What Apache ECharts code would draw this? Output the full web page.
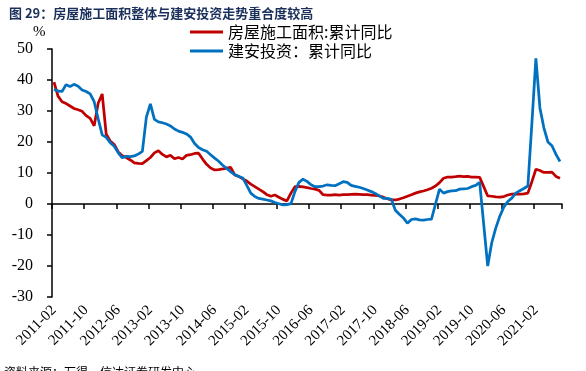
<!DOCTYPE html>
<html>
<head>
<meta charset="utf-8">
<script src="https://cdn.jsdelivr.net/npm/echarts@6/dist/echarts.min.js"></script>
<style>html,body{margin:0;padding:0;background:#fff;}#c{width:586px;height:371px;}</style>
</head>
<body>
<div id="c"></div>
<script>
// Months 2011-02 .. 2021-08
const startYear = 2011, startMonth = 2, monthCount = 127;
const categories = [];
for (let i = 0; i < monthCount; i++) {
  const m = startMonth - 1 + i;
  const y = startYear + Math.floor(m / 12);
  const mm = (m % 12) + 1;
  categories.push(y + '-' + (mm < 10 ? '0' + mm : mm));
}
const seriesNames = ['房屋施工面积:累计同比', '建安投资：累计同比'];
const floorSpaceYoY = [
  39.3, 34.8, 33.0, 32.4, 31.6, 30.8, 30.4, 29.9, 28.5, 27.6,
  25.2, 32.5, 35.5, 22.5, 20.3, 19.2, 16.8, 15.6, 15.0, 14.2,
  13.3, 13.1, 13.0, 14.0, 15.0, 16.5, 17.2, 16.0, 15.2, 15.7,
  14.6, 15.0, 14.5, 15.7, 15.9, 16.3, 16.4, 14.5, 12.8, 11.6,
  11.0, 11.1, 11.3, 11.6, 11.8, 9.4, 8.9, 8.1, 7.4, 6.4,
  5.6, 4.8, 4.0, 3.0, 2.5, 2.9, 2.2, 1.5, 1.0, 3.5,
  5.6, 5.7, 5.5, 5.3, 5.0, 4.8, 4.4, 3.0, 2.9, 2.9,
  3.0, 2.9, 3.0, 3.0, 3.1, 3.2, 3.1, 3.0, 3.0, 2.9,
  2.8, 2.6, 2.2, 1.7, 1.3, 1.3, 1.6, 2.0, 2.5, 3.0,
  3.5, 3.9, 4.2, 4.6, 5.1, 5.8, 6.9, 8.3, 8.7, 8.7,
  8.8, 9.0, 8.8, 8.9, 8.7, 8.7, 8.6, 5.6, 2.6, 2.5,
  2.3, 2.2, 2.4, 2.9, 3.2, 3.3, 3.2, 3.3, 3.5, 7.2,
  11.2, 10.8, 10.2, 10.2, 10.3, 8.9, 8.3
];
const constructionInvestYoY = [
  37.0, 36.4, 36.3, 38.5, 37.9, 38.6, 38.0, 36.8, 36.3, 35.5,
  33.0, 27.5, 22.3, 21.5, 19.8, 18.6, 16.5, 14.9, 15.4, 15.3,
  15.5, 16.1, 17.0, 28.0, 32.3, 27.3, 26.5, 26.2, 25.8, 25.2,
  24.2, 23.5, 23.1, 22.6, 21.6, 19.5, 18.2, 17.5, 17.0, 15.9,
  14.8, 13.8, 12.5, 11.5, 10.4, 9.5, 8.9, 8.4, 6.0, 3.5,
  2.4, 1.8, 1.6, 1.3, 1.0, 0.5, 0.1, -0.3, -0.2, 0.1,
  4.0, 7.0, 8.0, 7.3, 6.2, 5.6, 5.6, 5.8, 6.2, 6.0,
  5.9, 6.5, 7.2, 7.0, 6.0, 5.7, 5.4, 5.0, 4.5, 4.0,
  3.4, 2.6, 1.8, 1.8, 1.5, -2.0, -3.3, -4.5, -6.2, -5.0,
  -4.8, -5.1, -5.2, -5.0, -4.9, 0.0, 4.8, 3.5, 4.0, 4.2,
  4.3, 4.8, 4.9, 5.0, 5.6, 6.0, 7.0, -6.5, -20.0, -12.5,
  -7.8, -4.0, -1.0, 0.8, 1.9, 3.5, 4.3, 5.0, 5.8, 26.0,
  47.0, 31.0, 24.5, 20.0, 18.8, 16.0, 13.7
];
const yMin = -30, yMax = 50, yStep = 10;

const serif = '"Liberation Serif", "Times New Roman", serif';
const cjk = '"Noto Sans CJK SC", sans-serif';
const chart = echarts.init(document.getElementById('c'), null, {renderer: 'canvas'});
chart.setOption({
  animation: false,
  backgroundColor: '#fff',
  title: {
    text: '图 29：房屋施工面积整体与建安投资走势重合度较高',
    left: 4, top: 2,
    textStyle: {fontFamily: cjk, fontSize: 13, fontWeight: 'bold', color: '#1A2F5A'}
  },
  graphic: [
    {type: 'text', left: 33, top: 25, style: {text: '%', font: '15px ' + serif, fill: '#000'}},
    {type: 'text', left: 4, top: 366, style: {text: '资料来源：万得，信达证券研发中心', font: '12px ' + cjk, fill: '#000'}}
  ],
  legend: {
    orient: 'vertical', left: 185, top: 19,
    itemWidth: 33, itemHeight: 3, itemGap: 3,
    icon: 'rect',
    textStyle: {fontFamily: cjk, fontSize: 16, color: '#000'},
    data: seriesNames
  },
  grid: {left: 52, right: 24, top: 49, bottom: 74},
  xAxis: [
    {
      type: 'category', data: categories, boundaryGap: true,
      axisLine: {onZero: true, lineStyle: {color: '#000', width: 1.5}},
      axisTick: {show: true, interval: 7, length: 5, lineStyle: {color: '#000', width: 1.5}},
      axisLabel: {show: false},
      splitLine: {show: false}
    },
    {
      type: 'category', data: categories, boundaryGap: true, position: 'bottom',
      axisLine: {show: false, onZero: false},
      axisTick: {show: false},
      axisLabel: {show: true, interval: 7, rotate: 45, margin: 11,
        fontFamily: serif, fontSize: 15, color: '#000'},
      splitLine: {show: false}
    }
  ],
  yAxis: {
    type: 'value', min: yMin, max: yMax, interval: yStep,
    axisLine: {show: true, lineStyle: {color: '#000', width: 1.5}},
    axisTick: {show: true, length: 5, lineStyle: {color: '#000', width: 1.5}},
    axisLabel: {fontFamily: serif, fontSize: 16, color: '#000', margin: 19},
    splitLine: {show: false}
  },
  series: [
    {name: seriesNames[0], type: 'line', data: floorSpaceYoY, xAxisIndex: 0,
      symbol: 'none', lineStyle: {color: '#C00000', width: 2.75}, itemStyle: {color: '#C00000'}, z: 2},
    {name: seriesNames[1], type: 'line', data: constructionInvestYoY, xAxisIndex: 0,
      symbol: 'none', lineStyle: {color: '#0070C0', width: 2.75}, itemStyle: {color: '#0070C0'}, z: 3}
  ]
});
</script>
</body>
</html>
